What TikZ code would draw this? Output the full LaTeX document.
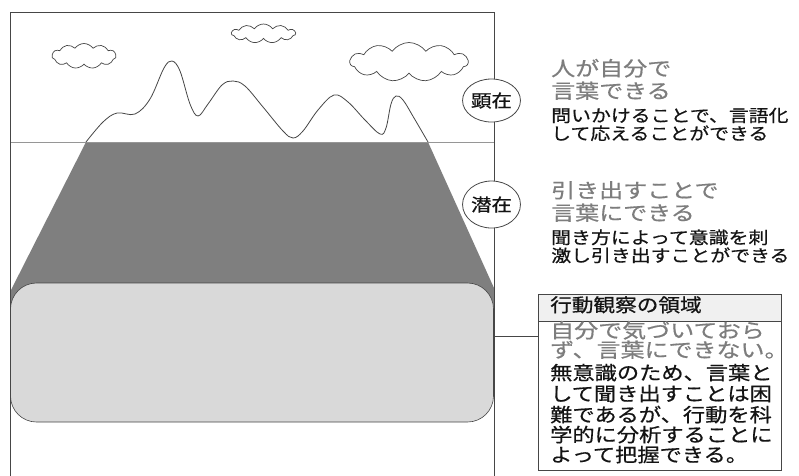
\documentclass[tikz,border=0pt]{standalone}
\usepackage{fontspec}
\usetikzlibrary{shapes.symbols,shapes.geometric}
\newfontfamily\jpink[FakeStretch=1.17, FakeBold=0.6]{Noto Sans CJK JP}
\newfontfamily\jpsoft[FakeStretch=1.2, FakeBold=0.6]{Noto Sans CJK JP}
\definecolor{lineC}{RGB}{70,70,70}
\definecolor{waterC}{RGB}{150,150,150}
\definecolor{deepC}{RGB}{127,127,127}
\definecolor{baseC}{RGB}{217,217,217}
\definecolor{headC}{RGB}{240,240,240}
\definecolor{softtext}{RGB}{125,125,125}
\definecolor{inktext}{RGB}{20,20,20}
\tikzset{
  txt/.style={inner sep=0pt, anchor=west, text height=0.88em, text depth=0.12em},
  bigline/.style={txt, text=softtext, font=\jpsoft\fontsize{20}{20}\selectfont},
  smallline/.style={txt, text=inktext, font=\jpink\fontsize{17}{17}\selectfont},
  boxline/.style={txt, text=inktext, font=\jpink\fontsize{19}{19}\selectfont},
  headline/.style={txt, text=inktext, font=\jpink\fontsize{18.5}{18.5}\selectfont},
  tag/.style={ellipse, draw=lineC, line width=0.8pt, fill=white, inner sep=0pt,
    minimum width=51pt, font=\jpink\fontsize{17.5}{17.5}\selectfont, text=inktext},
  puff/.style={cloud, cloud puffs=11, cloud puff arc=110, cloud ignores aspect,
    draw=lineC, line width=0.7pt, inner sep=0pt},
  edge/.style={draw=lineC, line width=0.8pt}
}
\begin{document}
\begin{tikzpicture}[x=1pt,y=-1pt]
\clip (0,0) rectangle (799,475);
\fill[white] (0,0) rectangle (799,475);

% submerged (latent) part of the mountain
\fill[deepC] (86,142) -- (428,142) -- (494,288) -- (494,330) -- (10,330) -- (10,292) -- cycle;

% unconscious base block
\filldraw[fill=baseC, draw=lineC, line width=0.6pt, rounded corners=26pt]
  (10.5,283) rectangle (493.5,422);

% water surface
\draw[waterC, line width=0.8pt] (10,142) -- (494,142);

% visible peaks above the surface
\draw[lineC, line width=0.8pt] plot[smooth, tension=0.6] coordinates {
  (86,142) (103,122) (117,113) (135,114) (150,99) (164,68) (172,61) (180,71)
  (190,104) (198,116) (208,104) (222,85) (233,81) (245,86) (263,107) (283,131)
  (293,138) (303,131) (318,110) (334,95) (348,102) (365,120) (380,134) (386,128)
  (391,104) (396,96) (403,100) (414,118) (428,142)};

% frame
\draw[edge] (10,480) -- (10,12) -- (494,12) -- (494,480);

% clouds
\node[puff, minimum width=64pt, minimum height=25pt] (c1) at (84,56) {};
\node[puff, minimum width=64pt, minimum height=19pt] (c2) at (263.5,33.5) {};
\node[puff, minimum width=118pt, minimum height=39pt] (c3) at (409,62) {};

% layer tags on the frame edge
\node[tag, minimum height=43pt] (kenzai) at (491.5,100.5) {顕在};
\node[tag, minimum height=47pt] (senzai) at (491.5,204.5) {潜在};

% explicit layer
\node[bigline] (k1) at (551,72) {人が自分で};
\node[bigline] (k2) at (551,94.5) {言葉できる};
\node[smallline] (k3) at (551,118) {問いかけることで、言語化};
\node[smallline] (k4) at (551,136) {して応えることができる};

% latent layer
\node[bigline] (s1) at (551,194) {引き出すことで};
\node[bigline] (s2) at (551,216.5) {言葉にできる};
\node[smallline] (s3) at (551,240) {聞き方によって意識を刺};
\node[smallline] (s4) at (551,258) {激し引き出すことができる};

% behaviour observation box
\draw[lineC, line width=1pt, fill=headC] (538,294) rectangle (781,321);
\node[draw=lineC, line width=1pt, minimum width=243pt, minimum height=176pt,
  inner sep=0pt, anchor=north west] (obs) at (538,294) {};
\draw[lineC, line width=1pt] (538,321) -- (781,321);
\node[headline] (h) at (550,308) {行動観察の領域};
\node[bigline] (b1) at (550,334) {自分で気づいておら};
\node[bigline] (b2) at (550,353.5) {ず、言葉にできない。};
\node[boxline] (b3) at (550,376) {無意識のため、言葉と};
\node[boxline] (b4) at (550,397) {して聞き出すことは困};
\node[boxline] (b5) at (550,418) {難であるが、行動を科};
\node[boxline] (b6) at (550,438) {学的に分析することに};
\node[boxline] (b7) at (550,458) {よって把握できる。};

% link from the base block to the box
\coordinate (lnk) at (494,336);
\draw[lineC, line width=0.8pt] (lnk) -- (obs.west |- lnk);
\end{tikzpicture}
\end{document}
